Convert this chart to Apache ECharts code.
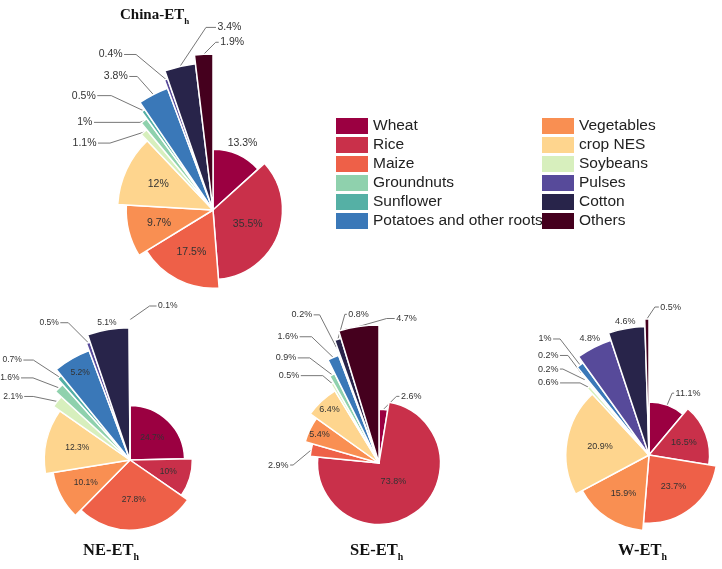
<!DOCTYPE html>
<html><head><meta charset="utf-8">
<script src="https://cdn.jsdelivr.net/npm/echarts@6.0.0/dist/echarts.min.js"></script>
<style>html,body{margin:0;padding:0;background:#fff}#c{width:722px;height:569px}</style>
</head><body><div id="c"></div>
<script>
// ---------------- data ----------------
const categories = ['Wheat','Rice','Maize','Vegetables','crop NES','Soybeans','Groundnuts','Sunflower','Potatoes and other roots','Pulses','Cotton','Others'];
const chinaValues = [13.3, 35.5, 17.5, 9.7, 12, 1.1, 1, 0.5, 3.8, 0.4, 3.4, 1.9];
const neValues    = [24.7, 10, 27.8, 10.1, 12.3, 2.1, 1.6, 0.7, 5.2, 0.5, 5.1, 0.1];
const seValues    = [2.6, 73.8, 2.9, 5.4, 6.4, 0.5, 0.9, 0, 1.6, 0.2, 0.8, 4.7];
const wValues     = [11.1, 16.5, 23.7, 15.9, 20.9, 0.6, 0.2, 0.2, 1, 4.8, 4.6, 0.5];
const regionNames = ['China', 'NE', 'SE', 'W'];
const legendLeft  = ['Wheat','Rice','Maize','Groundnuts','Sunflower','Potatoes and other roots'];
const legendRight = ['Vegetables','crop NES','Soybeans','Pulses','Cotton','Others'];

// ---------------- styles ----------------
const colors = {
  'Wheat':'#9b0041','Rice':'#c9304a','Maize':'#ee6048','Vegetables':'#f98f52','crop NES':'#fed58e',
  'Soybeans':'#d7efbd','Groundnuts':'#8fd1ad','Sunflower':'#55b0a5','Potatoes and other roots':'#3a78b8',
  'Pulses':'#574a9a','Cotton':'#28244a','Others':'#45001e'
};
// label placement style per slice: in / out (adjacent) / line [knee dx, knee dy, horizontal length]
const pieStyles = [
  {values: chinaValues, center:[213,210], R:156, font:10.5, titleLeft:120, titleTop:5, titleFont:15,
   labels:[['out'],['in'],['in'],['in'],['in'],['line',-34,11,12],['line',-4,1.5,46],['line',-32,-15,14],
           ['line',-16,-18,8],['line',-30,-25,12],['line',26,-39,10],['line',12,-12,3]]},
  {values: neValues, center:[130,460], R:140, font:8.5, titleLeft:83, titleTop:539, titleFont:16.5,
   labels:[['in'],['in'],['in'],['in'],['in'],['line',-24,-5,9],['line',-26,-10,12],['line',-26,-17,10],
           ['in'],['line',-20,-20,8],['out'],['line',20,-14,7]]},
  {values: seValues, center:[379,463], R:138, font:9, titleLeft:350, titleTop:539, titleFont:16.5,
   labels:[['line',13,-13,3],['in'],['line',-18,15,3],['in'],['in'],['line',-9.5,-8,22],['line',-22.5,-17,12],['none'],
           ['line',-21.6,-20.7,12],['line',-17,-33,6],['line',7,-25,2],['line',28,-8,8]]},
  {values: wValues, center:[649,455], R:136, font:9, titleLeft:618, titleTop:539, titleFont:16.5,
   labels:[['line',5,-12,2],['in'],['in'],['in'],['in'],['line',-8.5,-4.4,20],['line',-22.5,-11,3],['line',-13.6,-18,8],
           ['line',-20,-26,7],['out'],['out'],['line',8,-12,4]]}
];
const INNER_FRAC = 0.39;

function sliceGeom(p, i) {
  const total = p.values.reduce((a, b) => a + b, 0);
  let before = 0;
  for (let k = 0; k < i; k++) before += p.values[k];
  const angDeg = p.values[i] / total * 360;
  const mid = (before + p.values[i] / 2) / total * 2 * Math.PI;
  const r = p.R * (INNER_FRAC + (1 - INNER_FRAC) * i / (categories.length - 1));
  return {angDeg, mid, r, s: Math.sin(mid), c: Math.cos(mid)};
}

function layoutFor(p, i) {
  return function (params) {
    if (params.dataIndex !== i) return {};
    const g = sliceGeom(p, i);
    const [cx, cy] = p.center;
    const st = p.labels[i];
    const w = params.labelRect.width, h = params.labelRect.height;
    if (st[0] === 'in') {
      const frac = g.angDeg < 28 ? 0.86 : Math.max(0.37, 0.68 - g.angDeg / 900);
      const d = g.r * frac;
      return {x: cx + d * g.s, y: cy - d * g.c, align: 'center', verticalAlign: 'middle'};
    }
    if (st[0] === 'out') {
      const d = g.r + (w / 2) * Math.abs(g.s) + (h / 2) * Math.abs(g.c) + 1;
      return {x: cx + d * g.s, y: cy - d * g.c, align: 'center', verticalAlign: 'middle'};
    }
    const A = [cx + g.r * g.s, cy - g.r * g.c];
    const knee = [A[0] + st[1], A[1] + st[2]];
    const right = st[1] > 0;
    const end = [knee[0] + (right ? st[3] : -st[3]), knee[1]];
    return {
      x: end[0] + (right ? 1.5 : -1.5), y: end[1],
      align: right ? 'left' : 'right', verticalAlign: 'middle',
      labelLinePoints: [A, knee, end]
    };
  };
}

const series = [];
pieStyles.forEach((p) => {
  categories.forEach((cat, i) => {
    const g = sliceGeom(p, i);
    const mode = p.labels[i][0];
    const showLabel = p.values[i] > 0 && mode !== 'none';
    series.push({
      type: 'pie',
      center: p.center,
      radius: [0, g.r],
      startAngle: 90,
      clockwise: true,
      silent: true,
      animation: false,
      avoidLabelOverlap: false,
      label: {show: false},
      labelLine: {show: false},
      emphasis: {disabled: true},
      labelLayout: layoutFor(p, i),
      data: categories.map((name, j) => {
        const item = {name: name, value: p.values[j]};
        if (j === i) {
          item.itemStyle = {color: colors[name], borderColor: '#ffffff', borderWidth: 1.5};
          item.label = {
            show: showLabel, position: 'outside', formatter: '{c}%',
            fontSize: p.font, fontFamily: 'Liberation Sans, Arial, sans-serif', color: '#333'
          };
          item.labelLine = {
            show: showLabel && mode === 'line', length: 4, length2: 4,
            lineStyle: {color: '#777', width: 1}
          };
        } else {
          item.itemStyle = {color: 'rgba(0,0,0,0)', borderWidth: 0};
          item.label = {show: false};
          item.labelLine = {show: false};
        }
        return item;
      })
    });
  });
});

function titleRich(size) {
  return {
    a: {fontFamily: 'Liberation Serif, Times New Roman, serif', fontWeight: 'bold', fontSize: size, color: '#111', verticalAlign: 'middle'},
    b: {fontFamily: 'Liberation Serif, Times New Roman, serif', fontWeight: 'bold', fontSize: size * 0.6, color: '#111', verticalAlign: 'bottom', lineHeight: size * 1.4}
  };
}

function legendCfg(names, left) {
  return {
    orient: 'vertical', left: left, top: 118, padding: 0,
    itemWidth: 32, itemHeight: 16, itemGap: 3, icon: 'rect', selectedMode: false,
    textStyle: {fontSize: 15.5, color: '#222', fontFamily: 'Liberation Sans, Arial, sans-serif'},
    data: names.map(n => ({name: n, itemStyle: {color: colors[n], borderWidth: 0}}))
  };
}

const chart = echarts.init(document.getElementById('c'), null, {renderer: 'canvas'});
chart.setOption({
  backgroundColor: '#ffffff',
  animation: false,
  title: pieStyles.map((p, k) => ({
    text: '{a|' + regionNames[k] + '-ET}{b|h}', left: p.titleLeft, top: p.titleTop, padding: 0,
    textStyle: {rich: titleRich(p.titleFont)}
  })),
  legend: [legendCfg(legendLeft, 336), legendCfg(legendRight, 542)],
  series: series
});
</script></body></html>
